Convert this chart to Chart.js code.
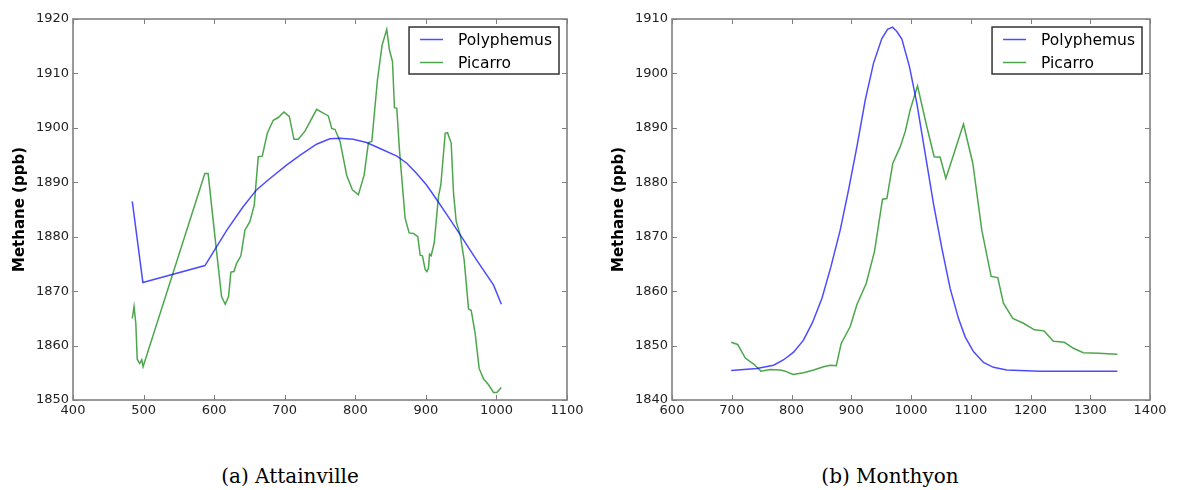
<!DOCTYPE html>
<html>
<head>
<meta charset="utf-8">
<script src="https://cdn.jsdelivr.net/npm/chart.js@4"></script>
<style>
  body { margin: 0; background: #fff; width: 1183px; height: 490px; position: relative; overflow: hidden; }
  canvas { position: absolute; top: 0; }
  #c1 { left: 0; }
  #c2 { left: 591px; }
  .cap { position: absolute; top: 464px; font-family: "DejaVu Serif", serif; font-size: 20px; color: #000; transform: translateX(-50%); white-space: nowrap; }
</style>
</head>
<body>
<canvas id="c1" width="591" height="430"></canvas>
<canvas id="c2" width="592" height="430"></canvas>
<div class="cap" style="left:290px">(a) Attainville</div>
<div class="cap" style="left:890px">(b) Monthyon</div>
<script>
// Attainville (left panel)
const attPolyX = [484, 499, 587, 618, 641, 660, 679, 703, 722, 745, 764, 778, 797, 816, 835, 859, 873, 887, 901, 916, 930, 949, 972, 996, 1007];
const attPolyY = [1886.5, 1871.6, 1874.7, 1881.2, 1885.5, 1888.6, 1890.7, 1893.2, 1895.0, 1897.0, 1898.0, 1898.1, 1897.9, 1897.3, 1896.2, 1894.8, 1893.5, 1891.6, 1889.5, 1886.7, 1884.0, 1880.3, 1875.7, 1871.1, 1867.6];
const attPicX = [484, 486.5, 489, 491, 494.6, 497.4, 499.3, 586.8, 591.5, 599.6, 610.5, 615.7, 620.4, 623.7, 628, 631.8, 637.9, 643.6, 650.7, 656.8, 662.5, 668.2, 675.3, 683.8, 690.9, 698.9, 706.5, 713.1, 719.3, 728.7, 745.2, 754.7, 761.8, 766.6, 771.3, 778.4, 787.8, 795.9, 804.4, 812.5, 818.6, 823.4, 831.4, 838, 844.6, 848.4, 852.7, 855.5, 858.8, 862.6, 870.6, 876.3, 882.4, 888.6, 891.9, 895.2, 899, 901.4, 903.7, 905.2, 907.5, 911.8, 917.9, 921.2, 927.4, 930.7, 935.9, 939.2, 943, 948.7, 954.3, 960.5, 964.2, 969.9, 975.5, 981.7, 988.8, 995.9, 1000.6, 1006.9];
const attPicY = [1865.0, 1867.2, 1864.1, 1857.5, 1856.7, 1857.4, 1856.1, 1891.6, 1891.6, 1881.8, 1869.0, 1867.6, 1869.0, 1873.5, 1873.6, 1875.1, 1876.5, 1881.2, 1882.8, 1885.8, 1894.7, 1894.8, 1899.0, 1901.4, 1901.9, 1902.9, 1902.1, 1897.9, 1897.9, 1899.4, 1903.4, 1902.7, 1902.2, 1899.9, 1899.7, 1897.5, 1891.3, 1888.6, 1887.7, 1891.3, 1897.3, 1897.5, 1908.8, 1915.2, 1918.1, 1914.3, 1912.2, 1903.7, 1903.6, 1895.9, 1883.4, 1880.7, 1880.6, 1880.0, 1876.6, 1876.5, 1874.0, 1873.6, 1874.2, 1876.8, 1876.5, 1878.8, 1887.4, 1889.5, 1899.0, 1899.1, 1897.2, 1888.0, 1882.8, 1880.3, 1875.7, 1866.7, 1866.5, 1862.2, 1855.8, 1853.9, 1852.8, 1851.4, 1851.4, 1852.3];

// Monthyon (right panel)
const monPolyX = [699, 742, 770, 787, 803.5, 820, 835, 851, 866, 881.5, 895.5, 909.4, 923.4, 937.3, 951.2, 960.7, 969.1, 976.3, 984.7, 997.5, 1009.8, 1023.7, 1037.6, 1051.6, 1065.5, 1079.4, 1090.6, 1104.5, 1121.3, 1138, 1160.3, 1216, 1345.4];
const monPolyY = [1845.4, 1845.8, 1846.4, 1847.4, 1848.8, 1851.0, 1854.2, 1858.7, 1864.5, 1871.2, 1878.6, 1886.5, 1895.1, 1901.9, 1906.4, 1908.1, 1908.5, 1907.7, 1906.3, 1901.2, 1894.5, 1885.3, 1876.1, 1867.9, 1860.5, 1855.0, 1851.6, 1848.9, 1846.9, 1846.0, 1845.5, 1845.3, 1845.3];
const monPicX = [699, 709.8, 722.7, 736.6, 748.9, 764.5, 781.2, 789.6, 802.4, 820.2, 837, 853.7, 864.8, 874.9, 883.2, 898.3, 909.4, 925, 938.9, 952.3, 959.6, 969.6, 981.9, 990.3, 998.6, 1010.9, 1026.5, 1038.8, 1048.8, 1058.3, 1071.1, 1087.8, 1103.4, 1118.5, 1134.1, 1145.2, 1154.7, 1170.3, 1188.1, 1206.6, 1222.7, 1238.3, 1256.7, 1271.8, 1288.5, 1313.6, 1345.4];
const monPicY = [1850.6, 1850.2, 1847.7, 1846.6, 1845.3, 1845.6, 1845.5, 1845.3, 1844.7, 1845.0, 1845.5, 1846.1, 1846.4, 1846.3, 1850.4, 1853.5, 1857.5, 1861.4, 1867.3, 1876.9, 1877.0, 1883.5, 1886.5, 1889.3, 1893.3, 1897.7, 1890.2, 1884.7, 1884.6, 1880.7, 1885.0, 1890.7, 1883.5, 1871.2, 1862.7, 1862.5, 1857.8, 1855.0, 1854.1, 1852.9, 1852.7, 1850.8, 1850.6, 1849.5, 1848.7, 1848.6, 1848.4];

const seriesNames = ["Polyphemus", "Picarro"];
const blue = "rgba(0,0,255,0.7)";
const green = "rgba(0,128,0,0.7)";
const frameColor = "#808080";

const pts = (xs, ys) => xs.map((x, i) => ({ x: x, y: ys[i] }));

// matplotlib-like box: frame + inward ticks on all four sides
const frameTicks = {
  id: "frameTicks",
  afterDraw(chart) {
    const { ctx, chartArea: a, scales } = chart;
    ctx.save();
    ctx.strokeStyle = frameColor;
    ctx.lineWidth = 1;
    ctx.beginPath();
    scales.x.ticks.forEach(t => {
      const px = Math.round(scales.x.getPixelForValue(t.value)) + 0.5;
      ctx.moveTo(px, a.bottom); ctx.lineTo(px, a.bottom - 5);
      ctx.moveTo(px, a.top); ctx.lineTo(px, a.top + 5);
    });
    scales.y.ticks.forEach(t => {
      const py = Math.round(scales.y.getPixelForValue(t.value)) + 0.5;
      ctx.moveTo(a.left, py); ctx.lineTo(a.left + 5, py);
      ctx.moveTo(a.right, py); ctx.lineTo(a.right - 5, py);
    });
    ctx.stroke();
    ctx.lineWidth = 1.6;
    ctx.strokeRect(a.left, a.top, a.right - a.left, a.bottom - a.top);
    ctx.restore();
  }
};

// boxed legend in the upper right corner
const boxLegend = {
  id: "boxLegend",
  afterDraw(chart) {
    const { ctx, chartArea: a } = chart;
    ctx.save();
    ctx.font = "15.5px 'DejaVu Sans'";
    const tw = Math.max(...chart.data.datasets.map(d => ctx.measureText(d.label).width));
    const w = 11 + 23 + 15 + tw + 7;
    const h = 47;
    const x0 = a.right - 8 - w;
    const y0 = a.top + 8;
    ctx.fillStyle = "#fff";
    ctx.fillRect(x0, y0, w, h);
    ctx.strokeStyle = "#333";
    ctx.lineWidth = 1.5;
    ctx.strokeRect(x0, y0, w, h);
    chart.data.datasets.forEach((d, i) => {
      const yy = y0 + 12.5 + i * 23;
      ctx.strokeStyle = d.borderColor;
      ctx.lineWidth = 1.5;
      ctx.beginPath();
      ctx.moveTo(x0 + 11, yy); ctx.lineTo(x0 + 34, yy);
      ctx.stroke();
      ctx.fillStyle = "#000";
      ctx.textBaseline = "middle";
      ctx.fillText(d.label, x0 + 49, yy + 1);
    });
    ctx.restore();
  }
};

const plainTick = v => String(v);

function makeChart(id, polyPts, picPts, xMin, xMax, yMin, yMax, padLeft, padRight) {
  return new Chart(document.getElementById(id), {
    type: "line",
    data: {
      datasets: [
        { label: seriesNames[0], data: polyPts, borderColor: blue, borderWidth: 1.5, pointRadius: 0, tension: 0, fill: false },
        { label: seriesNames[1], data: picPts, borderColor: green, borderWidth: 1.5, pointRadius: 0, tension: 0, fill: false }
      ]
    },
    options: {
      responsive: false,
      animation: false,
      layout: { padding: { left: padLeft, right: padRight, top: 19, bottom: 0 } },
      plugins: { legend: { display: false }, tooltip: { enabled: false } },
      scales: {
        x: {
          type: "linear", min: xMin, max: xMax,
          grid: { display: false, drawTicks: false },
          border: { display: false },
          ticks: { stepSize: 100, padding: 3, color: "#222", font: { family: "DejaVu Sans", size: 13 }, maxRotation: 0, callback: plainTick },
          afterFit: s => { s.height = 30; }
        },
        y: {
          min: yMin, max: yMax,
          grid: { display: false, drawTicks: false },
          border: { display: false },
          ticks: { stepSize: 10, padding: 4, color: "#222", font: { family: "DejaVu Sans", size: 13 }, callback: plainTick },
          title: { display: true, text: "Methane (ppb)", color: "#000", font: { family: "DejaVu Sans", size: 15, weight: "bold" }, padding: { top: 4, bottom: 0 } },
          afterFit: s => { s.width = 66; }
        }
      }
    },
    plugins: [frameTicks, boxLegend]
  });
}

makeChart("c1", pts(attPolyX, attPolyY), pts(attPicX, attPicY), 400, 1100, 1850, 1920, 7, 24);
makeChart("c2", pts(monPolyX, monPolyY), pts(monPicX, monPicY), 600, 1400, 1840, 1910, 15, 33);
</script>
</body>
</html>
